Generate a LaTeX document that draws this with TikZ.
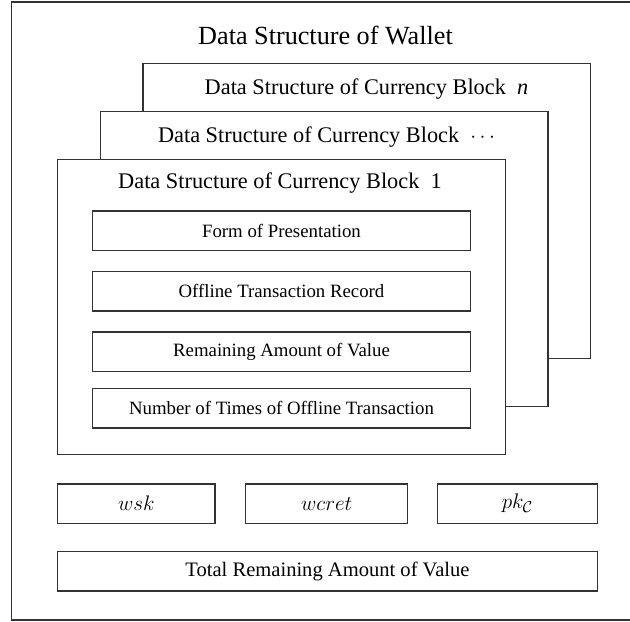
\documentclass[tikz,border=0pt]{standalone}
\usepackage{fontspec}
\setmainfont{Liberation Serif}
\begin{document}
\begin{tikzpicture}[
  frame/.style={draw=black!80,line width=0.7pt},
  block/.style={frame,fill=white,minimum width=8.95cm,minimum height=5.9cm,inner sep=0pt},
  blocktitle/.style={font=\fontsize{12.7}{15}\selectfont},
  field/.style={frame,minimum width=7.55cm,minimum height=0.79cm,inner sep=0pt,font=\fontsize{10.7}{12}\selectfont},
  keybox/.style={frame,minimum height=0.79cm,inner sep=0pt,font=\fontsize{12.5}{14}\selectfont}
]
\useasboundingbox (0,0) rectangle (12.6,12.44);
%\draw[step=0.5cm,gray,very thin] (0,0) grid (12.6,12.44); %background grid
\draw[frame] (0.234,0.04) rectangle (12.64,12.4);
\node (wallet) at (6.51,11.74) {\fontsize{14.9}{17}\selectfont Data Structure of Wallet};
% currency blocks, back to front
\node[block] (blockn) at (7.334,8.22) {};
\node[blocktitle] (titlen) at (7.33,10.66) {Data Structure of Currency Block\ \ \textit{n}};
\node[block] (blockdots) at (6.483,7.253) {};
\node[blocktitle] (titledots) at (6.53,9.7) {Data Structure of Currency Block\ \ $\cdots$};
\node[block] (blockone) at (5.63,6.293) {};
\node[blocktitle] (titleone) at (5.6,8.77) {Data Structure of Currency Block\ \ 1};
\node[field] (form) at (5.63,7.823) {Form of Presentation};
\node[field] (record) at (5.63,6.617) {Offline Transaction Record};
\node[field] (remain) at (5.63,5.403) {Remaining Amount of Value};
\node[field] (times) at (5.63,4.277) {Number of Times of Offline Transaction};
% keys and total
\node[keybox,minimum width=3.146cm] (wsk) at (2.727,2.367) {$wsk$};
\node[keybox,minimum width=3.24cm] (wcret) at (6.534,2.367) {$wcret$};
\node[keybox,minimum width=3.192cm] (pkc) at (10.35,2.367) {$pk_{\mathcal{C}}$};
\node[field,minimum width=10.792cm,font=\fontsize{11.7}{13}\selectfont] (total) at (6.55,1.013) {Total Remaining Amount of Value};
\end{tikzpicture}
\end{document}
